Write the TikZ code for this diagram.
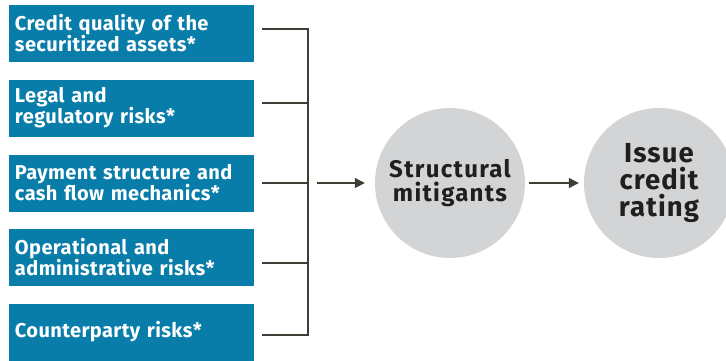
\documentclass[tikz,border=0pt]{standalone}
\usepackage{fontspec}
\setmainfont{Fira Sans}
\usetikzlibrary{arrows.meta,positioning}
\definecolor{riskblue}{RGB}{8,125,170}
\definecolor{mitgray}{RGB}{211,212,214}
\definecolor{linkgray}{RGB}{62,62,52}

\begin{document}
\begin{tikzpicture}[x=1pt,y=-1pt]
					\tikzset{>={Triangle[length=10pt,width=10pt]}}
					\tikzset{riskbox/.style={fill=riskblue,text=white,minimum width=245pt,minimum height=57pt,text width=233pt,inner xsep=6pt,align=left,font=\fontsize{20}{21}\selectfont\bfseries\addfontfeatures{LetterSpace=2}},
						link/.style={draw=linkgray,line width=1.5pt},
						bubble/.style={circle,fill=mitgray,minimum size=150pt,inner sep=0pt,align=center,text=black!88}}
					\useasboundingbox (0,0) rectangle (726,360);
					\node[riskbox] (b1) at (131.5,33.5) {Credit quality of the\\securitized assets*};
					\node[riskbox] (b2) at (131.5,108.1) {Legal and\\regulatory risks*};
					\node[riskbox] (b3) at (131.5,183) {Payment structure and\\cash flow mechanics*};
					\node[riskbox] (b4) at (131.5,257.3) {Operational and\\administrative risks*};
					\node[riskbox] (b5) at (131.5,332) {Counterparty risks*};
					\coordinate (bus) at (308,183);
					\foreach \n/\dy in {1/4.5,2/5,3/0,4/-5.5,5/-3}
					    \draw[link] ([xshift=8pt,yshift=\dy pt]b\n.east) -| (bus);
					\node[bubble,font=\fontsize{24}{23.5}\selectfont\bfseries\addfontfeatures{LetterSpace=5.5}] (mit) at (450,183) {Structural\\mitigants};
					\node[bubble,font=\fontsize{27.5}{26.8}\selectfont\bfseries\addfontfeatures{LetterSpace=4}] (rating) at (659,183) {Issue\\credit\\rating};
					\draw[link,->] ([xshift=9pt]bus) -- ([xshift=-10pt]mit.west);
					\draw[link,->] ([xshift=4pt]mit.east) -- ([xshift=-5pt]rating.west);
				\end{tikzpicture}
\end{document}
